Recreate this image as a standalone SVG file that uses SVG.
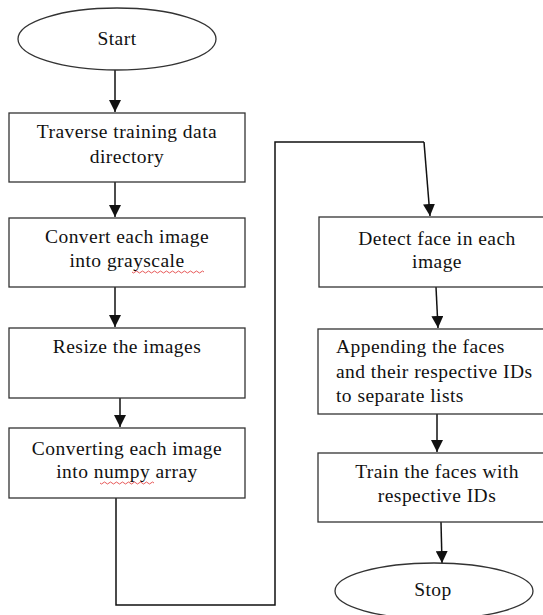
<svg xmlns="http://www.w3.org/2000/svg" width="543" height="615" viewBox="0 0 543 615">
<style>
.box{fill:#fff;stroke:#333;stroke-width:1.3}
.t{font-family:"Liberation Serif","Times New Roman",serif;font-size:19.5px;letter-spacing:0.45px;fill:#111;text-anchor:middle}
.l{text-anchor:start}
.c{fill:none;stroke:#111;stroke-width:1.5}
.sq{fill:none;stroke:#e03030;stroke-width:0.8}
</style>
<defs>
<marker id="ah" markerWidth="12" markerHeight="12" refX="10" refY="5" orient="auto" markerUnits="userSpaceOnUse" viewBox="0 0 10 10">
<path d="M0,0 L10,5 L0,10 z" fill="#111"/>
</marker>
</defs>
<g id="connectors">
<line class="c" x1="115" y1="70" x2="115" y2="112" marker-end="url(#ah)"/>
<line class="c" x1="115" y1="182" x2="115" y2="217" marker-end="url(#ah)"/>
<line class="c" x1="115" y1="287" x2="115" y2="327" marker-end="url(#ah)"/>
<line class="c" x1="120" y1="398" x2="120" y2="427" marker-end="url(#ah)"/>
<polyline class="c" points="116,498 116,605 275,605 275,142 424,142"/>
<line class="c" x1="424" y1="142" x2="430" y2="216" marker-end="url(#ah)"/>
<line class="c" x1="436" y1="287" x2="438" y2="328" marker-end="url(#ah)"/>
<line class="c" x1="437" y1="414" x2="437" y2="452" marker-end="url(#ah)"/>
<line class="c" x1="441" y1="522" x2="442" y2="563" marker-end="url(#ah)"/>
</g>
<g id="start">
<ellipse class="box" cx="117" cy="39" rx="99" ry="31"/>
<text class="t" x="117" y="45">Start</text>
</g>
<g id="traverse">
<rect class="box" x="9" y="113" width="236" height="69"/>
<text class="t" x="127" y="138">Traverse training  data</text>
<text class="t" x="127" y="163">directory</text>
</g>
<g id="grayscale">
<rect class="box" x="9" y="218" width="236" height="69"/>
<text class="t" x="127" y="243">Convert each image</text>
<text class="t" x="127" y="267">into grayscale</text>
<path class="sq" d="M132,272 q1.5,2 3,0 t3,0 t3,0 t3,0 t3,0 t3,0 t3,0 t3,0 t3,0 t3,0 t3,0 t3,0 t3,0 t3,0 t3,0 t3,0 t3,0 t3,0 t3,0 t3,0 t3,0 t3,0 t3,0 t3,0"/>
</g>
<g id="resize">
<rect class="box" x="9" y="328" width="236" height="70"/>
<text class="t" x="127" y="353">Resize the images</text>
</g>
<g id="numpy">
<rect class="box" x="9" y="428" width="236" height="70"/>
<text class="t" x="127" y="455">Converting each image</text>
<text class="t" x="127" y="478">into numpy  array</text>
<path class="sq" d="M100,483 q1.5,2 3,0 t3,0 t3,0 t3,0 t3,0 t3,0 t3,0 t3,0 t3,0 t3,0 t3,0 t3,0 t3,0 t3,0 t3,0 t3,0 t3,0 t3,0"/>
</g>
<g id="detect">
<rect class="box" x="319" y="217" width="240" height="70"/>
<text class="t" x="437" y="245">Detect face in each</text>
<text class="t" x="437" y="268">image</text>
</g>
<g id="append">
<rect class="box" x="318" y="329" width="240" height="85"/>
<text class="t l" x="336" y="353">Appending the faces</text>
<text class="t l" x="336" y="378">and their respective IDs</text>
<text class="t l" x="336" y="402">to separate lists</text>
</g>
<g id="train">
<rect class="box" x="318" y="453" width="240" height="69"/>
<text class="t" x="437" y="478">Train the faces with</text>
<text class="t" x="437" y="502">respective IDs</text>
</g>
<g id="stop">
<ellipse class="box" cx="434" cy="591" rx="99" ry="28"/>
<text class="t" x="433" y="596">Stop</text>
</g>
</svg>
